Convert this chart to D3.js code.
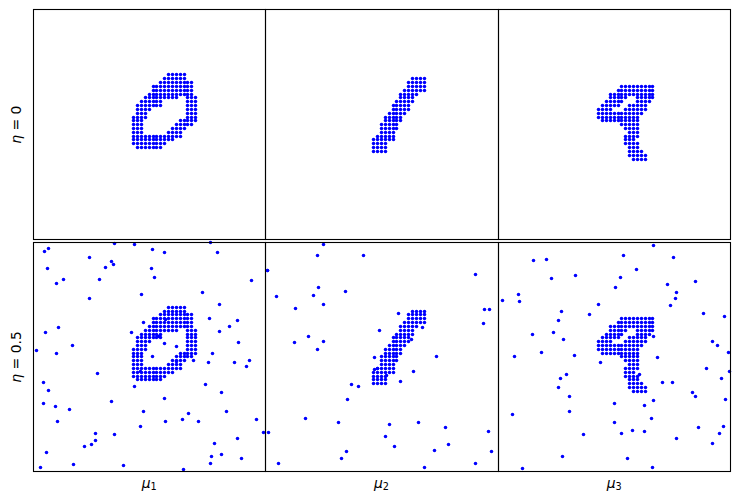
<!DOCTYPE html>
<html>
<head>
<meta charset="utf-8">
<style>
  html, body { margin: 0; padding: 0; background: #fff; }
  svg { display: block; }
  text { font-family: "DejaVu Sans", sans-serif; fill: #000; }
</style>
<script src="https://cdn.jsdelivr.net/npm/d3@7"></script>
</head>
<body>
<div id="wrap"></div>
<script>
// digit shapes: one entry per row, each row is a list of [first col, last col] runs
const digitZero = [
  [[9, 13]], [[8, 13]], [[7, 15]], [[5, 15]], [[5, 15]], [[4, 15]],
  [[3, 11], [14, 16]], [[2, 7], [14, 16]], [[1, 7], [14, 16]], [[1, 4], [14, 16]],
  [[1, 3], [14, 16]], [[0, 3], [14, 16]], [[0, 2], [12, 16]], [[0, 2], [11, 15]],
  [[0, 2], [10, 13]], [[0, 2], [9, 12]], [[0, 12]], [[0, 10]], [[0, 8]], [[1, 7]]
];
const digitOne = [
  [[10, 13]], [[9, 13]], [[9, 13]], [[8, 13]], [[7, 11]], [[7, 10]], [[6, 10]],
  [[5, 9]], [[5, 9]], [[4, 8]], [[3, 7]], [[3, 7]], [[2, 6]], [[2, 6]],
  [[2, 5]], [[1, 5]], [[0, 5]], [[0, 3]], [[0, 3]], [[0, 3]]
];
const digitFour = [
  [[6, 14]], [[5, 14]], [[3, 14]], [[3, 7], [10, 14]], [[2, 6], [10, 13]],
  [[1, 5], [8, 12]], [[0, 3], [7, 12]], [[0, 11]], [[0, 10]], [[1, 10]],
  [[6, 10]], [[7, 10]], [[8, 10]], [[7, 10]], [[7, 9]], [[7, 10]],
  [[8, 10]], [[8, 11]], [[8, 12]], [[9, 12]]
];
// where each digit starts in the 60 x 60 grid of a panel
const digitStart = [[26, 17], [28, 18], [26, 20]];

// noise points
const noiseMu1 = [
  [253,16],[313,19],[541,13],[55,31],[43,40],[367,34],[403,43],[562,43],[178,58],[244,70],
  [250,79],[226,88],[52,91],[364,91],[712,97],[208,124],[100,124],[79,136],[373,118],[664,127],
  [517,163],[334,169],[178,181],[568,199],[538,241],[622,247],[340,253],[598,265],[85,268],[46,283],
  [304,283],[568,280],[625,313],[127,322],[19,337],[79,346],[403,316],[439,325],[367,355],[547,346],
  [658,367],[613,373],[535,373],[649,385],[490,367],[202,406],[40,433],[526,439],[313,445],[55,457],
  [574,463],[403,481],[244,490],[40,496],[76,505],[118,514],[340,520],[589,520],[475,526],[679,544],
  [457,544],[406,550],[505,550],[82,550],[331,565],[196,586],[253,589],[700,583],[622,601],[196,607],
  [184,619],[163,625],[553,616],[49,643],[574,649],[544,655],[634,661],[130,679],[280,682],[541,676],
  [31,688],[460,694],[405,243],[440,370],[330,400],[385,293]
];
const noiseMu2 = [
  [184,19],[166,52],[304,52],[16,97],[640,109],[169,148],[250,160],[43,175],[154,172],[184,199],
  [100,211],[664,214],[679,214],[409,226],[661,256],[352,277],[481,268],[139,295],[97,313],[184,310],
  [166,334],[337,358],[523,355],[448,304],[346,391],[337,394],[454,400],[373,412],[415,430],[268,439],
  [289,445],[256,484],[130,541],[229,553],[382,559],[469,553],[550,568],[19,583],[676,580],[370,595],
  [397,625],[559,619],[517,637],[253,640],[685,640],[238,661],[49,676],[640,676],[487,688]
];
const noiseMu3 = [
  [475,22],[385,52],[535,58],[115,67],[154,64],[424,94],[241,112],[376,118],[169,121],[601,130],
  [517,139],[361,148],[544,163],[70,169],[541,181],[22,187],[73,190],[310,199],[526,202],[199,220],
  [283,229],[625,226],[688,235],[190,247],[175,283],[112,289],[205,304],[475,295],[652,310],[667,322],
  [139,343],[700,343],[238,352],[58,355],[487,358],[316,373],[634,391],[703,400],[214,409],[433,409],
  [196,421],[679,421],[502,433],[532,433],[190,448],[592,463],[601,475],[223,475],[691,484],[475,487],
  [358,496],[448,502],[223,520],[52,529],[469,541],[358,553],[685,565],[610,568],[412,577],[448,580],
  [379,586],[673,586],[265,589],[544,601],[652,616],[202,655],[397,661],[472,688],[82,691]
];

const digits = [digitZero, digitOne, digitFour];
const noises = [noiseMu1, noiseMu2, noiseMu3];
const columnLabels = ["1", "2", "3"];
const rowLabels = ["0", "0.5"];

const width = 740;
const height = 502;
const panelLeft = [33, 265.3, 498];
const panelTop = [10, 242.3];
const panelW = 232.4;
const panelH = 229.3;
// frame lines, on pixel centres
const frameX = [33.5, 265.5, 498.5, 730.5];
const frameY = [[9.5, 239.5], [242.5, 471.5]];
const blue = "#0000ff";
const dotRadius = 1.75;

let svg = d3.select("#wrap")
  .append("svg")
  .attr("width", width)
  .attr("height", height);

// grid scales for the digits
const gridX = d3.scaleLinear().domain([0, 60]).range([0, panelW]);
const gridY = d3.scaleLinear().domain([0, 60]).range([0, panelH]);
// noise readings
const noiseX = d3.scaleLinear().domain([9, 705]).range([0, panelW]);
const noiseY = d3.scaleLinear().domain([12, 699]).range([0, panelH]);

// markers sit on pixel centres so they stay crisp
const snap = v => Math.floor(v) + 0.5;

function digitCells(rows, start) {
  let cells = [];
  rows.forEach((runs, r) => {
    runs.forEach(run => {
      d3.range(run[0], run[1] + 1).forEach(c => cells.push([start[0] + c, start[1] + r]));
    });
  });
  return cells;
}

function drawPanel(col, row) {
  let left = panelLeft[col];
  let top = panelTop[row];
  let g = svg.append("g");
  g.selectAll("circle.cell")
    .data(digitCells(digits[col], digitStart[col]))
    .enter()
    .append("circle")
    .attr("class", "cell")
    .attr("cx", d => snap(left + gridX(d[0])))
    .attr("cy", d => snap(top + gridY(d[1])))
    .attr("r", dotRadius)
    .attr("fill", blue);
  if (row === 1) {
    g.selectAll("circle.noise")
      .data(noises[col])
      .enter()
      .append("circle")
      .attr("class", "noise")
      .attr("cx", d => snap(left + noiseX(d[0])))
      .attr("cy", d => snap(top + noiseY(d[1])))
      .attr("r", dotRadius)
      .attr("fill", blue);
  }
  g.append("rect")
    .attr("x", frameX[col])
    .attr("y", frameY[row][0])
    .attr("width", frameX[col + 1] - frameX[col])
    .attr("height", frameY[row][1] - frameY[row][0])
    .attr("fill", "none")
    .attr("stroke", "#000")
    .attr("stroke-width", 1.1);
}

rowLabels.forEach((r, j) => {
  columnLabels.forEach((c, i) => drawPanel(i, j));
});

// labels under the bottom row
columnLabels.forEach((c, i) => {
  let t = svg.append("text")
    .attr("x", panelLeft[i] + panelW / 2)
    .attr("y", 488)
    .attr("text-anchor", "middle")
    .attr("font-size", 13.9);
  t.append("tspan").attr("font-style", "italic").text("μ");
  t.append("tspan").attr("font-size", 9.7).attr("dy", 2).text(c);
});

// labels left of each row
rowLabels.forEach((r, j) => {
  let t = svg.append("text")
    .attr("transform", `translate(21,${panelTop[j] + panelH / 2}) rotate(-90)`)
    .attr("text-anchor", "middle")
    .attr("font-size", 13.9);
  t.append("tspan").attr("font-style", "italic").text("η");
  t.append("tspan").text(" = " + r);
});
</script>
</body>
</html>
